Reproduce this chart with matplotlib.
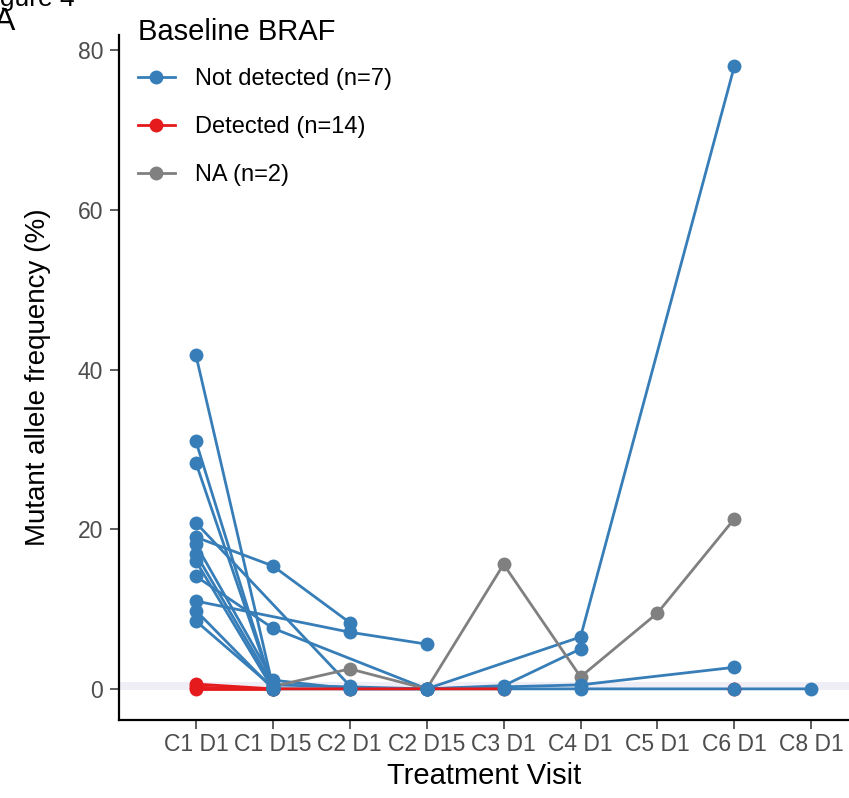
import numpy as np
import matplotlib
matplotlib.use("Agg")
import matplotlib.pyplot as plt
from matplotlib.lines import Line2D

plt.rcParams['font.family'] = ['Liberation Sans', 'DejaVu Sans']

nan = np.nan

visits = ["C1 D1", "C1 D15", "C2 D1", "C2 D15", "C3 D1",
          "C4 D1", "C5 D1", "C6 D1", "C8 D1"]

# mutant allele frequency (%) per patient, one value per visit (nan = not sampled)
not_detected = [
    [41.8, 0.3, nan, nan, nan, nan, nan, nan, nan],
    [31.0, 0.0, 0.0, 0.0, 0.4, 5.0, nan, nan, nan],
    [28.3, 0.1, nan, nan, nan, nan, nan, nan, nan],
    [20.8, nan, 0.4, nan, nan, nan, nan, nan, nan],
    [19.0, 15.4, 8.3, nan, nan, nan, nan, nan, nan],
    [18.1, 1.1, 0.0, 0.0, 0.0, 0.0, nan, 0.0, 0.0],
    [16.9, 0.5, nan, 0.0, nan, 0.5, nan, 2.7, nan],
    [16.0, 0.0, nan, nan, nan, nan, nan, nan, nan],
    [14.1, 7.6, nan, 0.0, nan, 6.5, nan, 78.0, nan],
    [11.0, nan, 7.1, 5.6, nan, nan, nan, nan, nan],
    [9.8, 0.0, nan, nan, nan, nan, nan, nan, nan],
    [8.5, 0.2, nan, nan, nan, nan, nan, nan, nan],
]
detected = [
    [0.6, 0.0, nan, nan, nan, nan, nan, nan, nan],
    [0.2, 0.0, 0.0, 0.0, 0.0, nan, nan, nan, nan],
    [0.0, 0.0, nan, nan, nan, nan, nan, nan, nan],
    [nan, nan, nan, nan, nan, nan, nan, 0.0, nan],
]
not_available = [
    [nan, 0.3, 2.5, 0.0, 15.6, 1.5, 9.5, 21.3, nan],
]

group_labels = ["Not detected (n=7)", "Detected (n=14)", "NA (n=2)"]
group_colors = ["#377EB8", "#E41A1C", "#808080"]
lod_band = (-0.1, 0.9)

fig = plt.figure(figsize=(8.49, 7.98), dpi=100)
ax = fig.add_axes([119 / 849, 78 / 798, 730 / 849, 685 / 798])

ax.axhspan(lod_band[0], lod_band[1], color="#EFEEF7", lw=0, zorder=0)

x = np.arange(1, len(visits) + 1)
groups = [(not_detected, group_colors[0]),
          (not_available, group_colors[2]),
          (detected, group_colors[1])]

# lines first, then points on top
for series, col in groups:
    for row in series:
        v = np.array(row)
        m = ~np.isnan(v)
        ax.plot(x[m], v[m], color=col, lw=2.0, solid_capstyle="butt", zorder=2)
for series, col in [groups[2], groups[1], groups[0]]:
    for row in series:
        v = np.array(row)
        m = ~np.isnan(v)
        ax.plot(x[m], v[m], ls="none", marker="o", ms=10, mew=0,
                color=col, zorder=3)

ax.set_xlim(0, 9.49)
ax.set_ylim(-3.9, 81.9)
ax.set_xticks(x)
ax.set_xticklabels(visits)
ax.set_yticks([0, 20, 40, 60, 80])

for s in ["top", "right"]:
    ax.spines[s].set_visible(False)
for s in ["left", "bottom"]:
    ax.spines[s].set_linewidth(1.6)
ax.tick_params(axis="both", length=6.5, width=1.1, color="#333333",
               labelcolor="#4D4D4D", labelsize=16.5)
ax.tick_params(axis="y", pad=5)
ax.tick_params(axis="x", pad=3)

ax.set_xlabel("Treatment Visit", fontsize=21, labelpad=4)
ax.set_ylabel("Mutant allele frequency (%)", fontsize=20, labelpad=19)

handles = [Line2D([0], [0], color=c, lw=2.0, marker="o", ms=10, mew=0)
           for c in group_colors]
leg = ax.legend(handles, group_labels, title="Baseline BRAF",
                loc="upper left", bbox_to_anchor=(138 / 849, 1 - 18 / 798),
                bbox_transform=fig.transFigure, frameon=False,
                fontsize=17, title_fontsize=21, alignment="left",
                handlelength=1.55, handletextpad=0.85, labelspacing=1.1,
                borderpad=0, borderaxespad=0)
leg._legend_box.sep = 16

fig.text(-22 / 849, 1 - 6 / 798, "Figure 4", fontsize=19, va="baseline")
fig.text(-6 / 849, 1 - 30 / 798, "A", fontsize=23, va="baseline")

fig.savefig("out.png", dpi=100)
